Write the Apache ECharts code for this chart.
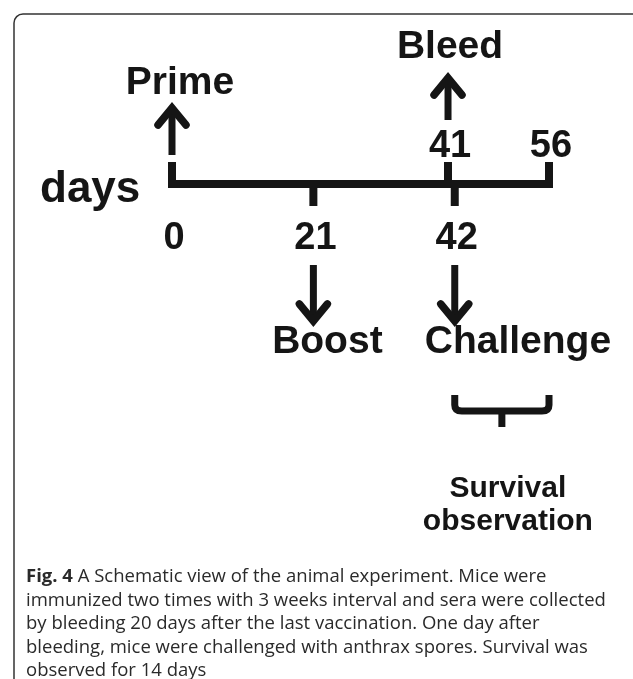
<!DOCTYPE html>
<html>
<head>
<meta charset="utf-8">
<script src="https://cdn.jsdelivr.net/npm/echarts@6/dist/echarts.min.js"></script>
<style>
html, body { margin: 0; padding: 0; background: #fff; }
#timelineChart { width: 633px; height: 679px; }
</style>
</head>
<body>
<div id="timelineChart"></div>
<script>
// schedule of the experiment, in days
const days = [0, 21, 41, 42, 56];
const dayLabels = ['0', '21', '41', '42', '56'];
const events = ['Prime', 'Boost', 'Bleed', 'Challenge', ''];
const observeRange = [42, 56];
const observeLabel = 'Survival\nobservation';
const captionLines = [
  '{b|Fig. 4} A Schematic view of the animal experiment. Mice were',
  'immunized two times with 3 weeks interval and sera were collected',
  'by bleeding 20 days after the last vaccination. One day after',
  'bleeding, mice were challenged with anthrax spores. Survival was',
  'observed for 14 days'
];

const ink = '#151515';
const boldFont = size => 'bold ' + size + 'px "Liberation Sans", Arial, sans-serif';

// which way each tick points and where its number sits
const tickUp = [true, false, true, false, true];
const numberAbove = [false, false, true, false, true];
// arrow / label placement per event, offsets from the timeline point
const eventLayout = {
  Prime: { tail: -29, tip: -78, labelY: -101, labelDx: 8, align: 'center' },
  Bleed: { tail: -64, tip: -108, labelY: -137, labelDx: 2, align: 'center' },
  Boost: { tail: 81, tip: 139, labelY: 158, labelDx: 14, align: 'center' },
  Challenge: { tail: 81, tip: 139, labelY: 158, labelDx: -30, align: 'left' }
};

function arrow(x, yTail, yTip) {
  const dir = yTip < yTail ? 1 : -1;
  return [
    { type: 'line', shape: { x1: x, y1: yTail, x2: x, y2: yTip + dir * 4 }, style: { stroke: ink, lineWidth: 7 } },
    {
      type: 'polyline',
      shape: { points: [[x - 14, yTip + dir * 19], [x, yTip + dir * 2], [x + 14, yTip + dir * 19]] },
      style: { stroke: ink, fill: null, lineWidth: 7.5, lineCap: 'round', lineJoin: 'miter' }
    }
  ];
}

function renderEvent(params, api) {
  const i = api.value(2);
  const p = api.coord([api.value(0), 0]);
  const x = p[0], y = p[1];
  let children = [];
  const up = tickUp[i];
  children.push({
    type: 'line',
    shape: { x1: x, y1: up ? y + 4 : y - 4, x2: x, y2: up ? y - 22 : y + 22 },
    style: { stroke: ink, lineWidth: 8 }
  });
  children.push({
    type: 'text',
    style: {
      text: dayLabels[i], x: x + 2, y: numberAbove[i] ? y - 37 : y + 55,
      align: 'center', verticalAlign: 'middle', font: boldFont(38), fill: ink
    }
  });
  const lay = eventLayout[events[i]];
  if (lay) {
    children = children.concat(arrow(x, y + lay.tail, y + lay.tip));
    children.push({
      type: 'text',
      style: {
        text: events[i], x: x + lay.labelDx, y: y + lay.labelY,
        align: lay.align, verticalAlign: 'middle', font: boldFont(39), fill: ink
      }
    });
  }
  return { type: 'group', children: children };
}

function renderBrace(params, api) {
  const a = api.coord([api.value(0), 0]);
  const b = api.coord([api.value(1), 0]);
  const top = a[1] + 211, mid = top + 16, xm = (a[0] + b[0]) / 2;
  const d = 'M ' + a[0] + ' ' + top + ' L ' + a[0] + ' ' + (mid - 6) +
    ' Q ' + a[0] + ' ' + mid + ' ' + (a[0] + 7) + ' ' + mid +
    ' L ' + (b[0] - 7) + ' ' + mid +
    ' Q ' + b[0] + ' ' + mid + ' ' + b[0] + ' ' + (mid - 6) +
    ' L ' + b[0] + ' ' + top +
    ' M ' + xm + ' ' + (mid - 3) + ' L ' + xm + ' ' + (mid + 16);
  return {
    type: 'group',
    children: [
      { type: 'path', shape: { pathData: d }, style: { stroke: ink, fill: null, lineWidth: 7 } },
      {
        type: 'text',
        style: {
          text: observeLabel, x: xm + 6, y: mid + 61, align: 'center', verticalAlign: 'top',
          font: boldFont(30), lineHeight: 33, fill: ink
        }
      }
    ]
  };
}

const chart = echarts.init(document.getElementById('timelineChart'));
chart.setOption({
  animation: false,
  backgroundColor: '#fff',
  title: {
    text: captionLines.join('\n'),
    left: 21,
    top: 560,
    textStyle: {
      fontFamily: '"Open Sans", sans-serif',
      fontSize: 18.5,
      fontWeight: 'normal',
      lineHeight: 23.5,
      color: '#2a2a2a',
      rich: {
        b: { fontFamily: '"Open Sans", sans-serif', fontSize: 18.5, fontWeight: 'bold', lineHeight: 23.5, color: '#2a2a2a' }
      }
    }
  },
  graphic: [
    {
      type: 'rect',
      shape: { x: 14, y: 14, width: 700, height: 700, r: 9 },
      style: { fill: null, stroke: '#333', lineWidth: 1.5 },
      silent: true
    },
    {
      type: 'text',
      left: 40,
      top: 168,
      style: { text: 'days', font: boldFont(44), fill: ink }
    }
  ],
  grid: { left: 172, right: 84, top: 174, height: 20 },
  xAxis: { type: 'value', min: 0, max: 56, show: false },
  yAxis: { type: 'value', min: -1, max: 1, show: false },
  series: [
    {
      type: 'line',
      data: days.map(d => [d, 0]),
      symbol: 'none',
      lineStyle: { color: ink, width: 8 },
      silent: true
    },
    {
      type: 'custom',
      clip: false,
      renderItem: renderEvent,
      data: days.map((d, i) => [d, 0, i]),
      silent: true
    },
    {
      type: 'custom',
      clip: false,
      renderItem: renderBrace,
      data: [observeRange],
      silent: true
    }
  ]
});
</script>
</body>
</html>
